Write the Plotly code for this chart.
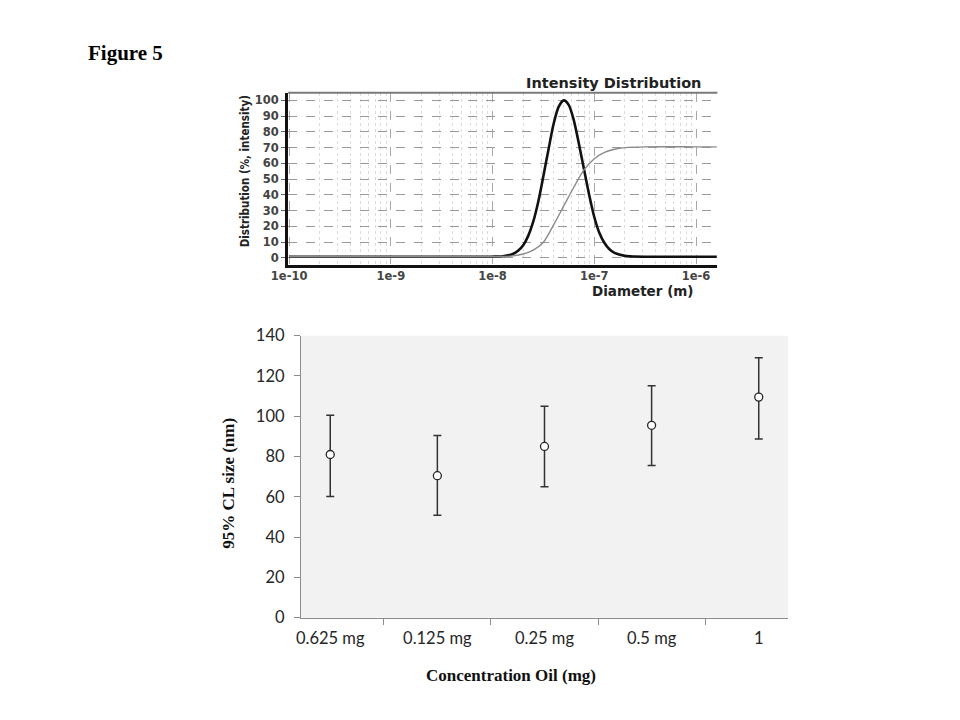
import plotly.graph_objects as go

# ---------------- Top panel: Intensity distribution ----------------
diameter_m = [1e-10, 1e-9, 1e-8, 1.26e-8, 1.58e-8, 1.78e-8, 2.0e-8, 2.24e-8, 2.51e-8, 2.82e-8,
              3.16e-8, 3.55e-8, 3.98e-8, 4.47e-8, 5.01e-8, 5.62e-8, 6.31e-8, 7.08e-8, 7.94e-8,
              8.91e-8, 1.0e-7, 1.12e-7, 1.26e-7, 1.41e-7, 1.58e-7, 2.0e-7, 2.51e-7, 3.16e-7,
              1e-6, 1.6e-6]
intensity_pct = [0.8, 0.8, 0.8, 1.1, 2.5, 4.5, 8, 14, 23, 36,
                 52, 69, 85, 96, 100, 97, 87, 72, 56,
                 40, 26, 16, 9.5, 5.5, 3.2, 1.3, 0.9, 0.8,
                 0.8, 0.8]

cum_diameter_m = [1e-10, 1e-9, 1e-8, 1.26e-8, 1.58e-8, 2.0e-8, 2.51e-8, 3.16e-8, 3.98e-8, 5.01e-8,
                  6.31e-8, 7.94e-8, 1.0e-7, 1.26e-7, 1.58e-7, 2.0e-7, 3.16e-7, 1e-6, 1.6e-6]
cumulative_pct = [0.8, 0.8, 0.8, 0.9, 1.3, 2.5, 5, 10, 21, 33,
                  45, 56, 63, 67, 69, 70, 70.5, 70.5, 70.5]

top_xtick_vals = [1e-10, 1e-9, 1e-8, 1e-7, 1e-6]
top_xtick_text = ["1e-10", "1e-9", "1e-8", "1e-7", "1e-6"]
top_ytick_vals = [0, 10, 20, 30, 40, 50, 60, 70, 80, 90, 100]

# ---------------- Bottom panel: 95% CL size ----------------
concentrations = ["0.625 mg", "0.125 mg", "0.25 mg", "0.5 mg", "1"]
cl_size_nm = [81, 70.5, 85, 95.5, 109.5]
err_plus = [19.5, 20, 20, 19.7, 19.5]
err_minus = [20.8, 19.7, 20, 20, 20.8]

W, H = 960, 720
def px(x):
    return x / W
def py(y):
    return 1 - y / H

minor_vals = [m * 10.0 ** e for e in range(-10, -5) for m in range(2, 10)]

fig = go.Figure()

fig.add_trace(go.Scatter(
    x=diameter_m, y=intensity_pct, xaxis="x", yaxis="y", mode="lines",
    line=dict(color="#111111", width=2.6, shape="spline", smoothing=0.8),
    hoverinfo="skip", showlegend=False))
fig.add_trace(go.Scatter(
    x=cum_diameter_m, y=cumulative_pct, xaxis="x", yaxis="y", mode="lines",
    line=dict(color="#8a8a8a", width=1.4, shape="spline", smoothing=0.8),
    hoverinfo="skip", showlegend=False))

fig.add_trace(go.Scatter(
    x=concentrations, y=cl_size_nm, xaxis="x2", yaxis="y2", mode="markers",
    marker=dict(symbol="circle", size=8, color="white",
                line=dict(color="#262626", width=1.3)),
    error_y=dict(type="data", symmetric=False, array=err_plus, arrayminus=err_minus,
                 color="#333333", thickness=1.5, width=4),
    showlegend=False))

top_font = dict(family="DejaVu Sans", size=11.5, color="#444444", weight="bold")
bottom_tick_font = dict(family="Lato, Carlito, Open Sans", size=16.5, color="#262626")
serif_bold = dict(family="Liberation Serif, Times New Roman", size=17, color="#111111", weight="bold")

fig.update_layout(
    width=W, height=H,
    margin=dict(l=0, r=0, t=0, b=0),
    paper_bgcolor="white", plot_bgcolor="white",
    showlegend=False,
    xaxis=dict(
        type="log", domain=[px(276), px(713)], range=[-10.01, -5.79], anchor="y",
        tickvals=top_xtick_vals, ticktext=top_xtick_text, tickfont=top_font,
        ticklabelstandoff=-2,
        showline=True, linecolor="#111111", linewidth=3, ticks="",
        showgrid=True, gridcolor="#a8a8a8", griddash="dash", gridwidth=1,
        minor=dict(tickvals=minor_vals, showgrid=True, gridcolor="#dcdcdc",
                   griddash="dot", gridwidth=1, ticks=""),
        zeroline=False, fixedrange=True),
    yaxis=dict(
        domain=[py(262), py(85)], range=[-4.3, 104.9], anchor="x",
        tickvals=top_ytick_vals, tickfont=top_font,
        showline=True, linecolor="#111111", linewidth=3,
        ticks="outside", ticklen=4, tickcolor="#666666",
        showgrid=True, gridcolor="#9a9a9a", griddash="dash", gridwidth=1,
        zeroline=False, fixedrange=True),
    xaxis2=dict(
        domain=[px(289), px(785)], anchor="y2", type="category",
        showline=True, linecolor="#8c8c8c", linewidth=1,
        ticks="outside", tickson="boundaries", ticklen=6, tickcolor="#8c8c8c",
        tickfont=bottom_tick_font, ticklabelstandoff=6,
        showgrid=False, zeroline=False, fixedrange=True),
    yaxis2=dict(
        domain=[py(625), py(335)], anchor="x2", range=[0, 140], dtick=20,
        showline=True, linecolor="#8c8c8c", linewidth=1,
        ticks="outside", ticklen=6, tickcolor="#8c8c8c",
        tickfont=bottom_tick_font, ticklabelstandoff=6,
        showgrid=False, zeroline=False, fixedrange=True),
    shapes=[
        dict(type="rect", xref="x2 domain", yref="y2 domain", x0=0, x1=1, y0=0, y1=1,
             fillcolor="#f2f2f2", line=dict(width=0), layer="below"),
        dict(type="line", xref="paper", yref="paper", x0=px(276), x1=px(713),
             y0=py(85), y1=py(85), line=dict(color="#7a7a7a", width=2)),
    ],
    annotations=[
        dict(text="Figure 5", x=px(70), y=py(44), xref="paper", yref="paper",
             xanchor="left", yanchor="middle", showarrow=False,
             font=dict(family="Liberation Serif, Times New Roman", size=21, color="#000000", weight="bold")),
        dict(text="Intensity Distribution", x=px(607), y=py(75), xref="paper", yref="paper",
             xanchor="center", yanchor="middle", showarrow=False,
             font=dict(family="DejaVu Sans", size=14.5, color="#222222", weight="bold")),
        dict(text="Diameter (m)", x=px(637), y=py(289), xref="paper", yref="paper",
             xanchor="center", yanchor="middle", showarrow=False,
             font=dict(family="DejaVu Sans", size=13.5, color="#222222", weight="bold")),
        dict(text="Distribution (%, intensity)", x=px(232), y=py(166), xref="paper", yref="paper",
             xanchor="center", yanchor="middle", showarrow=False, textangle=-90,
             font=dict(family="Liberation Sans Narrow, Arial Narrow, DejaVu Sans Condensed, Liberation Sans",
                       size=11.5, color="#222222", weight="bold")),
        dict(text="95% CL size (nm)", x=px(215), y=py(487), xref="paper", yref="paper",
             xanchor="center", yanchor="middle", showarrow=False, textangle=-90,
             font=serif_bold),
        dict(text="Concentration Oil (mg)", x=px(503), y=py(685), xref="paper", yref="paper",
             xanchor="center", yanchor="middle", showarrow=False,
             font=serif_bold),
    ],
)

fig.write_html("out.html", post_script="document.body.style.margin='0px';",
               config={"displayModeBar": False})
